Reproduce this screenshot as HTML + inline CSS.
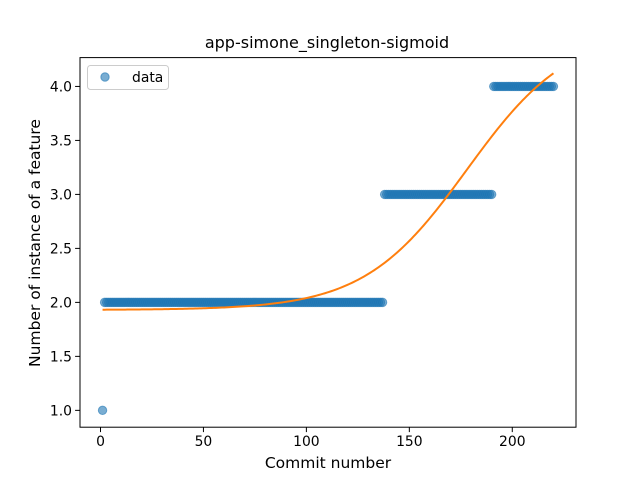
<!DOCTYPE html>
<html><head><meta charset="utf-8"><style>
body{margin:0;background:#fff;}
svg{display:block;font-family:"DejaVu Sans","Liberation Sans",sans-serif;}
</style></head><body>
<svg id="chart" width="640" height="480">
<rect width="640" height="480" fill="#fff"/>
<text x="327" y="48" text-anchor="middle" font-size="16">app-simone_singleton-sigmoid</text>
<g id="plot"></g>
<text x="328" y="468" text-anchor="middle" font-size="15.5">Commit number</text>
<text transform="translate(40,243) rotate(-90)" text-anchor="middle" font-size="15.5">Number of instance of a feature</text>
<g>
<rect x="87.5" y="65.5" width="81" height="24" rx="3" fill="#fff" stroke="#ccc"/>
<circle cx="105" cy="77" r="4.2" fill="#1f77b4" fill-opacity="0.6" stroke="#1f77b4" stroke-opacity="0.6"/>
<text x="132" y="82" font-size="13.9">data</text>
</g>
</svg>
<script>
const segStart=[1,2,138,191];
const segEnd=[1,137,190,220];
const segValue=[1,2,3,4];
const xTicks=[0,50,100,150,200];
const yTicks=[1.0,1.5,2.0,2.5,3.0,3.5,4.0];
const fitA=2.6, fitB=1.93, fitK=0.04, fitX0=178;
const L=80,R=576,T=57.6,B=427.2,xmin=-9.95,xmax=230.95,ymin=0.844,ymax=4.267;
const sx=v=>L+(v-xmin)/(xmax-xmin)*(R-L);
const sy=v=>B-(v-ymin)/(ymax-ymin)*(B-T);
const NS="http://www.w3.org/2000/svg";
const g=document.getElementById('plot');
function mk(t,a){const e=document.createElementNS(NS,t);for(const k in a)e.setAttribute(k,a[k]);g.appendChild(e);return e;}
for(let s=0;s<segStart.length;s++){for(let x=segStart[s];x<=segEnd[s];x++){
const c=mk('circle',{cx:sx(x),cy:sy(segValue[s]),r:4.2,fill:'#1f77b4','fill-opacity':0.6,stroke:'#1f77b4','stroke-opacity':0.6});

}}
let d='';for(let x=1;x<=220;x+=1){const y=fitB+fitA/(1+Math.exp(-fitK*(x-fitX0)));d+=(x==1?'M':'L')+sx(x).toFixed(2)+','+sy(y).toFixed(2);}
const p=mk('path',{d:d,fill:'none',stroke:'#ff7f0e','stroke-width':2});


const fr=mk('rect',{x:L,y:T,width:R-L,height:B-T,fill:'none',stroke:'#000','stroke-width':1});


xTicks.forEach(v=>{const x=sx(v);
const l=mk('line',{x1:x,x2:x,y1:B,y2:B+4.9,stroke:'#000'});


const t=mk('text',{x:x,y:B+19,'text-anchor':'middle','font-size':13.9});t.textContent=v;

});
yTicks.forEach(v=>{const y=sy(v);
const l=mk('line',{x1:L-4.9,x2:L,y1:y,y2:y,stroke:'#000'});


const t=mk('text',{x:L-8,y:y+5,'text-anchor':'end','font-size':13.9});t.textContent=v.toFixed(1);

});
</script>
</body></html>
